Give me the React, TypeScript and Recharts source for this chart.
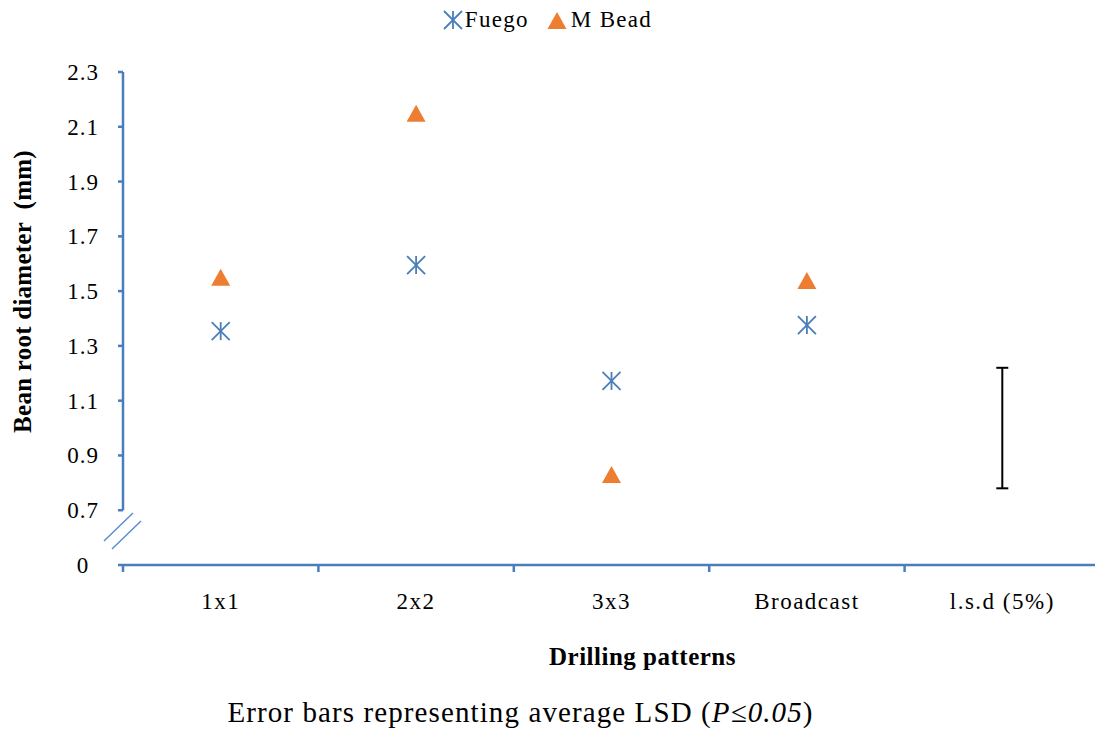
import React from 'react';
import { ComposedChart, Scatter, XAxis, YAxis, ErrorBar, ReferenceLine, Legend } from 'recharts';

const categories = ['1x1', '2x2', '3x3', 'Broadcast', 'l.s.d (5%)'];
const fuegoValues = [1.354, 1.595, 1.172, 1.376];
const mBeadValues = [1.549, 2.148, 0.829, 1.537];
const lsdCenter = 1.0;
const lsdHalf = 0.22;
const yTicks = [0.5, 0.7, 0.9, 1.1, 1.3, 1.5, 1.7, 1.9, 2.1, 2.3];
const yTickLabels = ['0', '0.7', '0.9', '1.1', '1.3', '1.5', '1.7', '1.9', '2.1', '2.3'];

const BLUE = '#4A7EBB';
const ORANGE = '#ED7D31';
const FONT = "'Liberation Serif', 'Times New Roman', serif";

const fuegoData = fuegoValues.map((v, i) => ({ x: i + 1, y: v }));
const mBeadData = mBeadValues.map((v, i) => ({ x: i + 1, y: v }));
const lsdData = [{ x: categories.length, y: lsdCenter, err: lsdHalf }];
const xTicks: number[] = [];
for (let i = 0; i <= categories.length; i++) {
  xTicks.push(i + 0.5);
  if (i < categories.length) xTicks.push(i + 1);
}

const Asterisk = (props: any) => {
  const { cx, cy } = props;
  const r = 9;
  return (
    <g stroke={BLUE} strokeWidth={1.8}>
      <line x1={cx - r} y1={cy - r} x2={cx + r} y2={cy + r} />
      <line x1={cx - r} y1={cy + r} x2={cx + r} y2={cy - r} />
      <line x1={cx} y1={cy - r} x2={cx} y2={cy + r} />
    </g>
  );
};

const Triangle = (props: any) => {
  const { cx, cy } = props;
  return <polygon points={`${cx},${cy - 9} ${cx - 9.5},${cy + 8} ${cx + 9.5},${cy + 8}`} fill={ORANGE} />;
};

const Empty = () => <g />;

const YTick = (props: any) => {
  const { x, y, payload } = props;
  const idx = yTicks.indexOf(payload.value);
  const label = idx >= 0 ? yTickLabels[idx] : String(payload.value);
  const isZero = idx === 0;
  return (
    <g>
      <line x1={x - 5} y1={y} x2={x} y2={y} stroke={BLUE} strokeWidth={2.5} />
      <text x={x - 40} y={y + 8} textAnchor="middle" fontFamily={FONT} fontSize={23} fill="#000" letterSpacing={1}>
        {label}
      </text>
      {isZero && (
        <g stroke="#5B8FD0" strokeWidth={1.5}>
          <line x1={x - 19} y1={y - 24} x2={x + 10} y2={y - 52} />
          <line x1={x - 11} y1={y - 16} x2={x + 18} y2={y - 44} />
        </g>
      )}
    </g>
  );
};

const XTick = (props: any) => {
  const { x, y, payload } = props;
  const v = payload.value;
  if (Number.isInteger(v)) {
    return (
      <text x={x} y={y + 44} textAnchor="middle" fontFamily={FONT} fontSize={23} fill="#000" letterSpacing={1.5}>
        {categories[v - 1]}
      </text>
    );
  }
  return <line x1={x} y1={y} x2={x} y2={y + 7} stroke={BLUE} strokeWidth={2.5} />;
};

const LegendContent = () => (
  <div style={{ display: 'flex', justifyContent: 'center', alignItems: 'center', height: 30, fontFamily: FONT, fontSize: 23, letterSpacing: 1.3 }}>
    <svg width={20} height={20} style={{ marginRight: 2 }}>
      <Asterisk cx={10} cy={10} />
    </svg>
    <span style={{ marginRight: 18 }}>Fuego</span>
    <svg width={20} height={20} style={{ marginRight: 4 }}>
      <Triangle cx={10} cy={11} />
    </svg>
    <span>M Bead</span>
  </div>
);

const YLabel = (props: any) => {
  const { viewBox } = props;
  const cx = viewBox.x - 41;
  const cy = viewBox.y + viewBox.height / 2 - 27;
  return (
    <text x={cx} y={cy} transform={`rotate(-90, ${cx}, ${cy})`} textAnchor="middle" dominantBaseline="central" fontFamily={FONT} fontSize={25} fontWeight="bold" fill="#000" letterSpacing={0.25} style={{ whiteSpace: 'pre' }}>
      {'Bean root diameter  (mm)'}
    </text>
  );
};

const XLabel = (props: any) => {
  const { viewBox } = props;
  const cx = viewBox.x + viewBox.width / 2 + 31;
  return (
    <g>
      <text x={cx} y={viewBox.y + 100} textAnchor="middle" fontFamily={FONT} fontSize={25} fontWeight="bold" fill="#000" letterSpacing={0.5}>
        Drilling patterns
      </text>
      <text x={cx - 122} y={viewBox.y + 157} textAnchor="middle" fontFamily={FONT} fontSize={29} fill="#000" letterSpacing={1.1}>
        Error bars representing average LSD (<tspan fontStyle="italic">P≤0.05</tspan>)
      </text>
    </g>
  );
};

export default function App() {
  return (
    <div style={{ position: 'absolute', left: 0, top: 0, width: 1095, height: 731, background: '#fff', overflow: 'hidden' }}>
      <ComposedChart width={1095} height={731} margin={{ top: 42, right: -5, bottom: 126, left: 63 }}>
        <Legend verticalAlign="top" align="center" height={30} wrapperStyle={{ top: 5, left: 0, width: 1095 }} content={<LegendContent />} />
        <XAxis
          type="number"
          dataKey="x"
          domain={[0.5, categories.length + 0.5]}
          ticks={xTicks}
          interval={0}
          height={40}
          axisLine={{ stroke: BLUE, strokeWidth: 2.5 }}
          tickLine={false}
          tickSize={0}
          tickMargin={0}
          tick={<XTick />}
          allowDataOverflow
          label={<XLabel />}
        />
        <YAxis
          type="number"
          dataKey="y"
          domain={[0.5, 2.3]}
          ticks={yTicks}
          interval={0}
          width={60}
          axisLine={false}
          tickLine={false}
          tickSize={0}
          tickMargin={0}
          tick={<YTick />}
          allowDataOverflow
          label={<YLabel />}
        />
        <ReferenceLine
          segment={[{ x: 0.5, y: 0.7 }, { x: 0.5, y: 2.3 }]}
          stroke={BLUE}
          strokeWidth={2.5}
          ifOverflow="visible"
        />
        <Scatter name="Fuego" data={fuegoData} shape={<Asterisk />} isAnimationActive={false} />
        <Scatter name="M Bead" data={mBeadData} shape={<Triangle />} isAnimationActive={false} />
        <Scatter name="lsd" data={lsdData} shape={<Empty />} isAnimationActive={false} legendType="none">
          <ErrorBar dataKey="err" direction="y" width={6} stroke="#000" strokeWidth={2} isAnimationActive={false} />
        </Scatter>
      </ComposedChart>
    </div>
  );
}
